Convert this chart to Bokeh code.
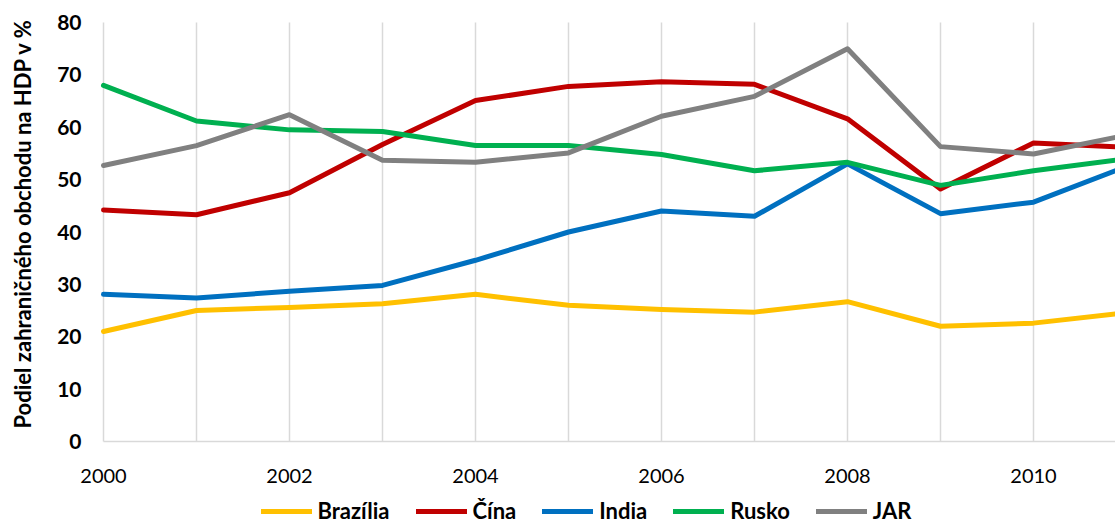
import math
from bokeh.plotting import figure
from bokeh.models import ColumnDataSource, Legend, LegendItem, Range1d
from bokeh.core.properties import value
from bokeh.embed import file_html
from bokeh.resources import INLINE

years = [2000, 2001, 2002, 2003, 2004, 2005, 2006, 2007, 2008, 2009, 2010, 2011]
brazilia = [21.0, 25.0, 25.6, 26.3, 28.1, 26.0, 25.2, 24.7, 26.7, 22.0, 22.6, 24.6]
cina = [44.2, 43.3, 47.5, 56.7, 65.1, 67.8, 68.7, 68.2, 61.6, 48.2, 57.0, 56.2]
india = [28.1, 27.4, 28.7, 29.8, 34.6, 40.0, 44.0, 43.0, 53.0, 43.5, 45.7, 52.5]
rusko = [68.0, 61.2, 59.5, 59.2, 56.5, 56.5, 54.8, 51.7, 53.3, 48.9, 51.7, 54.0]
jar = [52.7, 56.5, 62.4, 53.7, 53.3, 55.1, 62.1, 65.9, 75.0, 56.3, 54.9, 58.5]

series_names = ["Brazília", "Čína", "India", "Rusko", "JAR"]
series_values = [brazilia, cina, india, rusko, jar]
series_colors = ["#FFC000", "#C00000", "#0070C0", "#00B050", "#808080"]

y_ticks = [0, 10, 20, 30, 40, 50, 60, 70, 80]
x_label_ticks = [2000, 2002, 2004, 2006, 2008, 2010]
grid_years = years[:11]
y_title = "Podiel zahraničného obchodu na HDP v %"

FONT = "Lato"

# layout (pixels)
W, H = 1115, 524
LEFT, TOP, AXIS_Y = 103, 22, 441
PX_YEAR = 93.0
px_per_unit = (AXIS_Y - TOP) / (y_ticks[-1] - y_ticks[0])
x0 = years[0]
y0 = y_ticks[0]

def dx(px):  # pixel offset -> data units along x
    return px / PX_YEAR

def dy(px):
    return px / px_per_unit

p = figure(width=W, height=H, output_backend="svg", toolbar_location=None,
           x_range=Range1d(x0 - dx(LEFT), x0 + dx(W - LEFT)),
           y_range=Range1d(y0 - dy(H - AXIS_Y), y_ticks[-1] + dy(TOP)),
           x_axis_location=None, y_axis_location=None,
           min_border_left=0, min_border_right=0, min_border_top=0, min_border_bottom=0)
p.outline_line_color = None
p.background_fill_color = "white"
p.xgrid.visible = False
p.ygrid.visible = False

# vertical gridlines (one per year) from 0 to 80
p.segment(x0=grid_years, y0=[y_ticks[0]] * len(grid_years),
          x1=grid_years, y1=[y_ticks[-1]] * len(grid_years),
          line_color="#D9D9D9", line_width=1.5)
# baseline (x axis line)
p.segment(x0=[x0], y0=[y0], x1=[x0 + dx(W - LEFT)], y1=[y0],
          line_color="#D9D9D9", line_width=1.5)

src = ColumnDataSource(dict(x=years, **{f"s{i}": v for i, v in enumerate(series_values)}))
renderers = []
for i, (name, col) in enumerate(zip(series_names, series_colors)):
    r = p.line("x", f"s{i}", source=src, line_color=col, line_width=5,
               line_join="round", line_cap="round")
    renderers.append((name, r))

# x tick labels
p.text(x=x_label_ticks, y=[y0 - dy(34)] * len(x_label_ticks),
       text=[str(t) for t in x_label_ticks],
       text_align="center", text_baseline="middle", text_font=value(FONT),
       text_font_size="20px", text_color="#000000")

# y tick labels
p.text(x=[x0 - dx(22)] * len(y_ticks), y=y_ticks, text=[str(t) for t in y_ticks],
       text_align="right", text_baseline="middle", text_font=value(FONT),
       text_font_style="bold", text_font_size="21px", text_color="#000000")

# y axis title
p.text(x=[x0 - dx(LEFT - 22)], y=[y0 + dy(AXIS_Y - 223)], text=[y_title],
       angle=math.pi / 2, text_align="center", text_baseline="middle",
       text_font=value(FONT), text_font_style="bold", text_font_size="22px",
       text_color="#000000")

legend = Legend(items=[LegendItem(label=n, renderers=[r]) for n, r in renderers],
                orientation="horizontal", location=(260.5, 0),
                glyph_width=51, glyph_height=18, label_height=18,
                label_standoff=6, spacing=26, padding=0, margin=0,
                border_line_color=None, background_fill_alpha=0,
                label_text_font=FONT, label_text_font_style="bold",
                label_text_font_size="22px", label_text_color="#000000")
p.add_layout(legend, "center")

open("out.html", "w").write(file_html(p, INLINE))
